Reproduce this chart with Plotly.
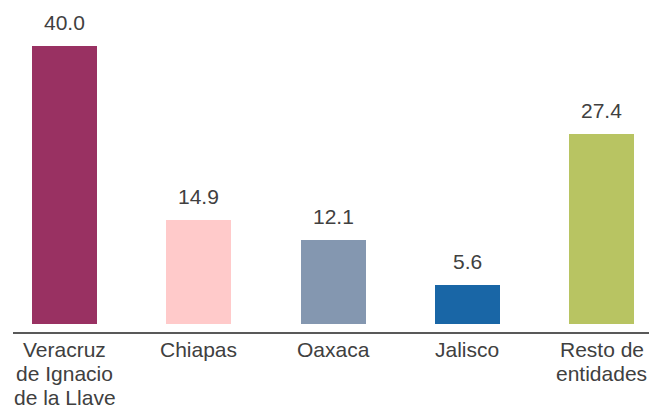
import plotly.graph_objects as go

categories = ["Veracruz<br>de Ignacio<br>de la Llave", "Chiapas", "Oaxaca", "Jalisco", "Resto de<br>entidades"]
values = [40.0, 14.9, 12.1, 5.6, 27.4]
labels = ["40.0", "14.9", "12.1", "5.6", "27.4"]
colors = ["#993162", "#FFCACA", "#8497B0", "#1966A6", "#B8C462"]

fig = go.Figure(go.Bar(
    x=list(range(len(categories))), y=values, marker_color=colors,
    width=0.484, marker_line_width=0, hoverinfo="skip"))

for i, (v, t) in enumerate(zip(values, labels)):
    fig.add_annotation(x=i, y=v, text=t, showarrow=False, yanchor="bottom",
                       yshift=10, font=dict(size=21, color="#404040"))

# category labels: one annotation per line to control line spacing
for i, cat in enumerate(categories):
    for j, line in enumerate(cat.split("<br>")):
        fig.add_annotation(x=i, xref="x", y=0, yref="paper", text=line,
                           showarrow=False, yanchor="middle",
                           yshift=-17 - 24.3 * j,
                           font=dict(size=21, color="#404040"))

# page body has an 8px default margin, so the figure is offset by 8px
fig.update_layout(
    width=649, height=398,
    margin=dict(l=5, r=2, t=2, b=74),
    paper_bgcolor="white", plot_bgcolor="white",
    font=dict(family="Liberation Sans, Arial, sans-serif", size=21, color="#404040"),
    showlegend=False,
    bargap=0,
)
fig.update_xaxes(range=[-0.3836, 4.398], showticklabels=False,
                 showline=True, linecolor="#595959", linewidth=1.5,
                 showgrid=False, zeroline=False, ticks="", fixedrange=True,
                 automargin=False)
fig.update_yaxes(range=[-1.151, 45.18], visible=False, showgrid=False,
                 zeroline=False, fixedrange=True, automargin=False)

fig.write_html("out.html")
